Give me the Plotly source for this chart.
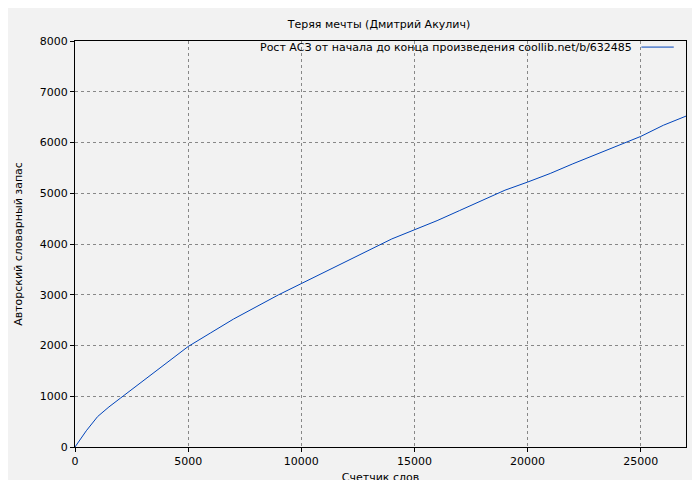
import plotly.graph_objects as go

words = [0, 500, 1000, 1500, 2000, 3000, 4000, 5000, 6000, 7000, 8000, 9000, 10000, 11000, 12000,
         13000, 14000, 15000, 16000, 17000, 18000, 19000, 20000, 21000, 22000, 23000,
         24000, 25000, 26000, 27000]
vocab = [0, 320, 600, 790, 960, 1300, 1650, 1980, 2250, 2520, 2760, 3000, 3220, 3440, 3660,
         3870, 4100, 4280, 4460, 4660, 4860, 5060, 5220, 5390, 5580, 5760,
         5950, 6120, 6340, 6520]
legend_text = "Рост АСЗ от начала до конца произведения coollib.net/b/632485"

fig = go.Figure(go.Scatter(x=words, y=vocab, mode="lines",
                           line=dict(color="#0044bb", width=1), name=legend_text))
grid = dict(showgrid=True, gridcolor="#888", griddash="dot", gridwidth=1,
            showline=True, linecolor="black", mirror=True, ticks="outside",
            tickcolor="black", ticklen=4, zeroline=False, automargin=False,
            tickformat="d", tickfont=dict(size=11))
fig.update_layout(
    width=700, height=480,
    paper_bgcolor="#f2f2f2", plot_bgcolor="#f2f2f2",
    font=dict(family="DejaVu Sans", size=11, color="black"),
    title=dict(text="Теряя мечты (Дмитрий Акулич)", x=0.53, xanchor="center", y=0.975,
               yref="container", font=dict(size=11), automargin=False),
    margin=dict(l=67, r=22, t=33, b=41, autoexpand=False),
    showlegend=False,
    xaxis=dict(range=[0, 27000], dtick=5000,
               title=dict(text="Счетчик слов", standoff=6, font=dict(size=11)), **grid),
    yaxis=dict(range=[0, 8000], dtick=1000,
               title=dict(text="Авторский словарный запас", standoff=14, font=dict(size=11)), **grid),
)
fig.add_annotation(text=legend_text, xref="paper", yref="paper", x=0.915, y=0.985,
                   xanchor="right", yanchor="middle", showarrow=False, font=dict(size=11))
fig.add_shape(type="line", xref="paper", yref="paper", x0=0.927, x1=0.98, y0=0.985, y1=0.985,
              line=dict(color="#0044bb", width=1))
fig.write_html("out.html")
